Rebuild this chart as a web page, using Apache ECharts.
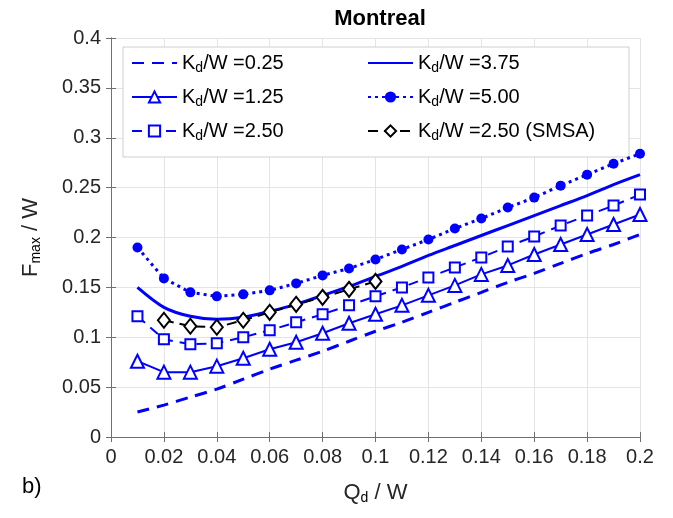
<!DOCTYPE html>
<html lang="en">
<head>
<meta charset="UTF-8">
<title>Montreal</title>
<style>
  html, body { margin: 0; padding: 0; background: #fff; }
  #main { width: 673px; height: 518px; }
</style>
</head>
<body>
<div id="main"></div>
<script src="https://cdn.jsdelivr.net/npm/echarts@6/dist/echarts.min.js"></script>
<script>
// Qd / W sample points
var qd = [0.01, 0.02, 0.03, 0.04, 0.05, 0.06, 0.07, 0.08, 0.09, 0.10,
          0.11, 0.12, 0.13, 0.14, 0.15, 0.16, 0.17, 0.18, 0.19, 0.20];
var qdSmsa = [0.02, 0.03, 0.04, 0.05, 0.06, 0.07, 0.08, 0.09, 0.10];

// Fmax / W for each Kd/W
var kd025 = [0.025, 0.032, 0.040, 0.048, 0.058, 0.068, 0.077, 0.086, 0.096, 0.106,
             0.115, 0.125, 0.135, 0.145, 0.155, 0.164, 0.174, 0.184, 0.193, 0.203];
var kd125 = [0.076, 0.065, 0.065, 0.071, 0.079, 0.088, 0.095, 0.104, 0.114, 0.123,
             0.132, 0.142, 0.152, 0.163, 0.172, 0.183, 0.193, 0.203, 0.213, 0.223];
var kd250 = [0.121, 0.098, 0.093, 0.094, 0.100, 0.107, 0.115, 0.123, 0.132, 0.141,
             0.150, 0.160, 0.170, 0.180, 0.191, 0.201, 0.212, 0.222, 0.232, 0.243];
var kd375 = [0.150, 0.130, 0.121, 0.118, 0.120, 0.126, 0.133, 0.142, 0.151, 0.161,
             0.171, 0.182, 0.192, 0.202, 0.212, 0.222, 0.232, 0.242, 0.253, 0.263];
var kd500 = [0.190, 0.159, 0.145, 0.141, 0.143, 0.147, 0.154, 0.162, 0.169, 0.178,
             0.188, 0.198, 0.209, 0.219, 0.230, 0.240, 0.252, 0.263, 0.274, 0.284];
var smsa250 = [0.117, 0.111, 0.110, 0.117, 0.125, 0.133, 0.140, 0.148, 0.156];

var names = ['Kd/W =0.25', 'Kd/W =1.25', 'Kd/W =2.50',
             'Kd/W =3.75', 'Kd/W =5.00', 'Kd/W =2.50 (SMSA)'];

function pairs(xs, ys) {
    return xs.map(function (x, i) { return [x, ys[i]]; });
}

var FONT = 'Liberation Sans, Arial, sans-serif';
var BLUE = '#0000ff';
var subRich = { s: { fontSize: 14, fontFamily: FONT, color: '#000', padding: [10, 0, 0, 0] } };
// legend entries of plain lines: hide the marker, keep the line
var noMark = { color: 'rgba(0,0,0,0)', borderWidth: 0 };

var chart = echarts.init(document.getElementById('main'));

var legendBase = {
    orient: 'vertical',
    itemWidth: 45,
    itemHeight: 14,
    itemGap: 12,
    z: 5,
    textStyle: { fontSize: 20, fontFamily: FONT, color: '#000', rich: subRich },
    formatter: function (name) { return name.replace('Kd', 'K{s|d}'); }
};

var option = {
    animation: false,
    title: {
        text: 'Montreal',
        left: 375, top: 3, textAlign: 'center',
        textStyle: { fontSize: 22, fontWeight: 'bold', fontFamily: FONT, color: '#000' }
    },
    grid: { left: 111, right: 33, top: 38, bottom: 81 },
    legend: [
        Object.assign({}, legendBase, { left: 126, top: 48, data: [
            { name: names[0], itemStyle: noMark }, names[1], names[2]
        ] }),
        Object.assign({}, legendBase, { left: 362, top: 48, data: [
            { name: names[3], itemStyle: noMark }, names[4], names[5]
        ] })
    ],
    graphic: [
        { type: 'rect', z: 3, shape: { x: 123, y: 47, width: 506, height: 110 },
          style: { fill: '#fff', stroke: '#cfcfcf', lineWidth: 1 } },
        { type: 'text', left: 22, top: 476, z: 5,
          style: { text: 'b)', fontSize: 22, fontFamily: FONT, fill: '#000' } }
    ],
    xAxis: [
        {
            type: 'value', min: 0, max: 0.2, interval: 0.02, position: 'bottom',
            name: 'Q{s|d} / W', nameLocation: 'middle', nameGap: 44,
            nameTextStyle: { fontSize: 22, fontFamily: FONT, color: '#262626', rich: subRich },
            axisLine: { lineStyle: { color: '#707070' } },
            axisTick: { inside: true, length: 5, lineStyle: { color: '#707070' } },
            axisLabel: { fontSize: 20, fontFamily: FONT, color: '#262626', margin: 10 },
            splitLine: { show: true, lineStyle: { color: '#e4e4e4' } }
        },
        {
            type: 'value', min: 0, max: 0.2, interval: 0.02, position: 'top',
            axisLine: { show: true, lineStyle: { color: '#707070' } },
            axisTick: { show: true, inside: true, length: 5, lineStyle: { color: '#707070' } },
            axisLabel: { show: false },
            splitLine: { show: false }
        }
    ],
    yAxis: [
        {
            type: 'value', min: 0, max: 0.4, interval: 0.05, position: 'left',
            name: 'F{s|max} / W', nameLocation: 'middle', nameGap: 68, nameRotate: 90,
            nameTextStyle: { fontSize: 22, fontFamily: FONT, color: '#262626', rich: subRich },
            axisLine: { show: true, lineStyle: { color: '#707070' } },
            axisTick: { show: true, inside: true, length: 5, lineStyle: { color: '#707070' } },
            axisLabel: { fontSize: 20, fontFamily: FONT, color: '#262626', margin: 10 },
            splitLine: { show: true, lineStyle: { color: '#e4e4e4' } }
        },
        {
            type: 'value', min: 0, max: 0.4, interval: 0.05, position: 'right',
            axisLine: { show: true, lineStyle: { color: '#707070' } },
            axisTick: { show: true, inside: true, length: 5, lineStyle: { color: '#707070' } },
            axisLabel: { show: false },
            splitLine: { show: false }
        }
    ],
    series: [
        {
            name: names[0], type: 'line', data: pairs(qd, kd025),
            symbol: 'none', smooth: 0.3, z: 6,
            itemStyle: { color: BLUE },
            lineStyle: { color: BLUE, width: 3, type: [12, 8] }
        },
        {
            name: names[1], type: 'line', data: pairs(qd, kd125),
            symbol: 'triangle', symbolSize: 13, z: 6,
            itemStyle: { color: '#fff', borderColor: BLUE, borderWidth: 2 },
            lineStyle: { color: BLUE, width: 2 }
        },
        {
            name: names[2], type: 'line', data: pairs(qd, kd250),
            symbol: 'rect', symbolSize: 10, z: 6,
            itemStyle: { color: '#fff', borderColor: BLUE, borderWidth: 2 },
            lineStyle: { color: BLUE, width: 2, type: [10, 7] }
        },
        {
            name: names[3], type: 'line', data: pairs(qd, kd375),
            symbol: 'none', smooth: 0.3, z: 6,
            itemStyle: { color: BLUE },
            lineStyle: { color: BLUE, width: 3 }
        },
        {
            name: names[4], type: 'line', data: pairs(qd, kd500),
            symbol: 'circle', symbolSize: 10, z: 6,
            itemStyle: { color: BLUE },
            lineStyle: { color: BLUE, width: 3, type: [3, 4] }
        },
        {
            name: names[5], type: 'line', data: pairs(qdSmsa, smsa250),
            symbol: 'diamond', symbolSize: [12, 15], z: 7,
            itemStyle: { color: '#fff', borderColor: '#000', borderWidth: 2 },
            lineStyle: { color: '#000', width: 2, type: [10, 6] }
        }
    ]
};

chart.setOption(option);
</script>
</body>
</html>
